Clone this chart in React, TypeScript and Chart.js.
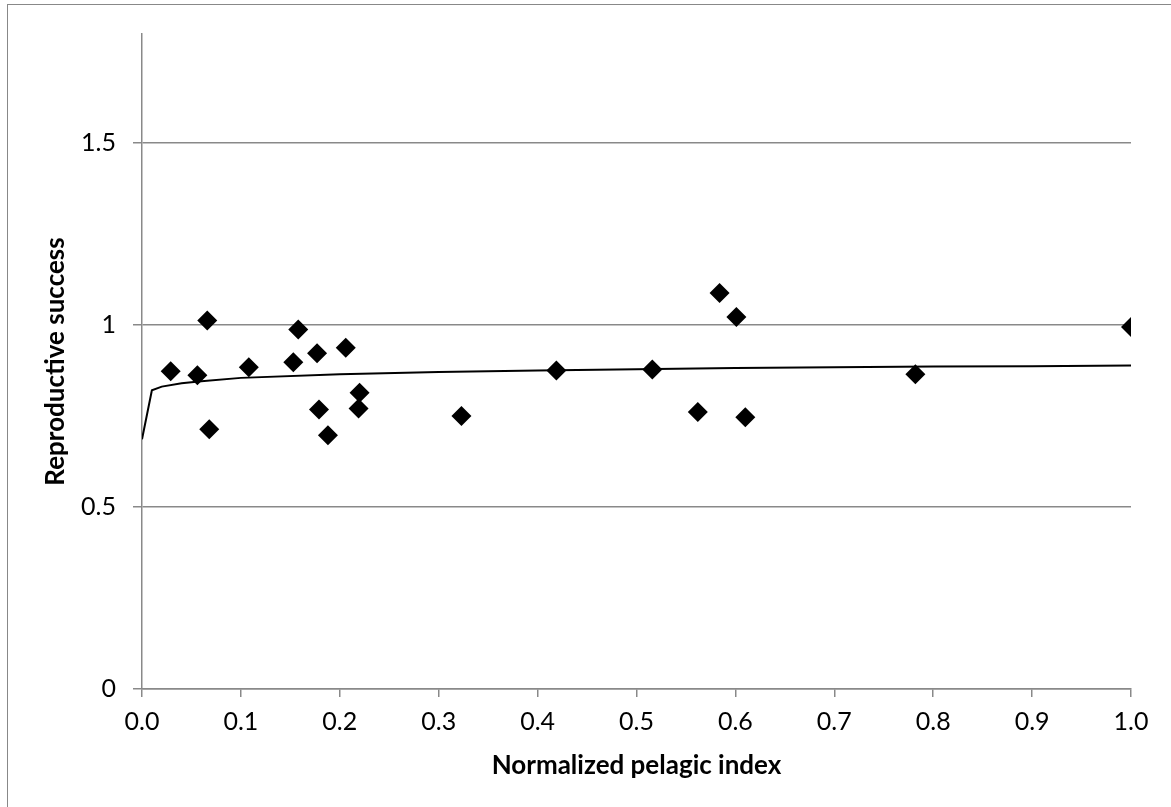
import React, { useEffect, useRef } from "react";
import { Chart, registerables } from "chart.js";

Chart.register(...registerables);

const pelagicIndex = [0.029, 0.056, 0.066, 0.068, 0.108, 0.153, 0.158, 0.177, 0.179, 0.188, 0.206, 0.220, 0.219, 0.323, 0.419, 0.516, 0.562, 0.584, 0.601, 0.610, 0.782, 1.0];
const reproSuccess = [0.873, 0.862, 1.013, 0.714, 0.884, 0.898, 0.988, 0.923, 0.768, 0.697, 0.938, 0.814, 0.771, 0.750, 0.875, 0.878, 0.761, 1.088, 1.022, 0.747, 0.865, 0.995];

// Trend line
const trendX = [0, 0.01, 0.02, 0.04, 0.06, 0.1, 0.2, 0.3, 0.4, 0.5, 0.6, 0.7, 0.8, 0.9, 1.0];
const trendY = [0.686, 0.821, 0.831, 0.840, 0.846, 0.855, 0.865, 0.871, 0.875, 0.879, 0.882, 0.884, 0.886, 0.887, 0.889];

const yTicks = [0, 0.5, 1, 1.5];
const yTickLabels = ["0", "0.5", "1", "1.5"];
const xTitle = "Normalized pelagic index";
const yTitle = "Reproductive success";

const FONT = "Lato, 'Open Sans', sans-serif";

export default function App() {
  const ref = useRef<HTMLCanvasElement | null>(null);

  useEffect(() => {
    if (!ref.current) return;
    const chart = new Chart(ref.current, {
      type: "scatter",
      data: {
        datasets: [
          {
            type: "line",
            label: "Trend",
            data: trendX.map((x, i) => ({ x, y: trendY[i] })),
            borderColor: "#000",
            borderWidth: 2,
            pointRadius: 0,
            tension: 0,
            fill: false,
            order: 0,
          },
          {
            label: "Data",
            data: pelagicIndex.map((x, i) => ({ x, y: reproSuccess[i] })),
            pointStyle: "rectRot",
            pointRadius: 10,
            pointBackgroundColor: "#000",
            pointBorderColor: "#000",
            pointBorderWidth: 0,
            backgroundColor: "#000",
            order: 1,
          },
        ],
      },
      options: {
        responsive: false,
        animation: false,
        layout: { padding: { top: 34, right: 40, left: 0, bottom: 0 } },
        plugins: { legend: { display: false }, tooltip: { enabled: false } },
        scales: {
          x: {
            type: "linear",
            min: 0,
            max: 1,
            afterFit: (s: any) => { s.height = 118; },
            ticks: {
              stepSize: 0.1,
              color: "#000",
              padding: 10,
              font: { family: FONT, size: 25 },
              callback: (v: any) => Number(v).toFixed(1),
            },
            grid: { drawOnChartArea: false, drawTicks: true, tickLength: 8, color: "#898989", lineWidth: 1.5 },
            border: { display: true, color: "#898989", width: 1.5 },
            title: {
              display: true,
              text: xTitle,
              color: "#000",
              font: { family: FONT, size: 26, weight: "bold" },
              padding: { top: 0, bottom: 26 },
            },
          },
          y: {
            type: "linear",
            min: 0,
            max: 1.8,
            afterFit: (s: any) => { s.width = 142; },
            afterBuildTicks: (s: any) => { s.ticks = yTicks.map((v) => ({ value: v })); },
            ticks: {
              color: "#000",
              padding: 17,
              font: { family: FONT, size: 25 },
              callback: (v: any) => {
                const i = yTicks.indexOf(Number(v));
                return i >= 0 ? yTickLabels[i] : "";
              },
            },
            grid: { drawOnChartArea: true, drawTicks: true, tickLength: 9, color: "#898989", lineWidth: 1.5 },
            border: { display: true, color: "#898989", width: 1.5 },
            title: {
              display: true,
              text: yTitle,
              color: "#000",
              font: { family: FONT, size: 26, weight: "bold" },
              padding: { top: 40, bottom: 0 },
            },
          },
        },
      },
    });
    return () => chart.destroy();
  }, []);

  return (
    <div style={{ position: "fixed", inset: 0, overflow: "hidden", background: "#fff" }}>
      <div
        style={{
          position: "absolute",
          left: 7,
          top: 4,
          width: 2000,
          height: 2000,
          border: "1.5px solid #888",
        }}
      />
      <canvas
        ref={ref}
        width={1171}
        height={807}
        style={{ position: "absolute", left: 0, top: 0, width: 1171, height: 807 }}
      />
    </div>
  );
}
